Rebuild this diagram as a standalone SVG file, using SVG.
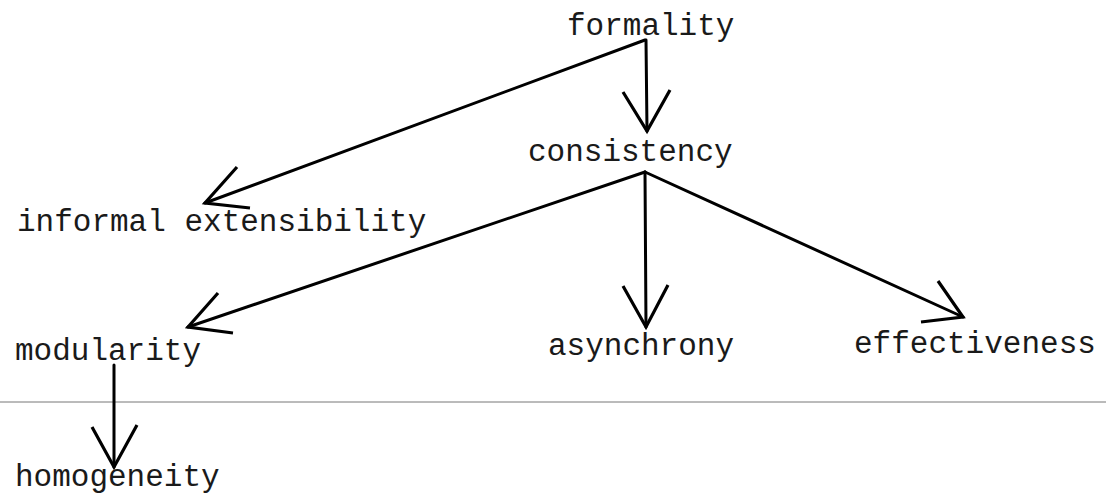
<svg xmlns="http://www.w3.org/2000/svg" width="1106" height="495" viewBox="0 0 1106 495">
<style>
.lbl{font-family:"Liberation Mono","Courier New",monospace;font-size:31px;fill:#1a1a1a}
.ln{stroke:#000;stroke-width:3;fill:none;stroke-linecap:round;stroke-linejoin:round}
.hd{stroke:#000;stroke-width:3.2;fill:none;stroke-linecap:butt;stroke-linejoin:miter}
</style>
<rect width="1106" height="495" fill="#fff"/>
<line x1="0" y1="402" x2="1106" y2="402" stroke="#777" stroke-width="1"/>
<g id="connectors">
<line class="ln" x1="646" y1="40" x2="647" y2="131"/>
<polyline class="hd" points="623,92 647,131 670,90"/>
<line class="ln" x1="645" y1="40" x2="205" y2="203"/>
<polyline class="hd" points="237,167 205,203 250,208"/>
<line class="ln" x1="645" y1="172" x2="188" y2="327"/>
<polyline class="hd" points="218,293 188,327 233,333"/>
<line class="ln" x1="645" y1="172" x2="646" y2="327"/>
<polyline class="hd" points="623,286 646,327 668,285"/>
<line class="ln" x1="645" y1="172" x2="963" y2="317"/>
<polyline class="hd" points="938,281 963,317 921,322"/>
<line class="ln" x1="114" y1="365" x2="114" y2="467"/>
<polyline class="hd" points="92,427 114,467 137,425"/>
</g>
<g id="formality"><text class="lbl" x="567" y="35">formality</text></g>
<g id="consistency"><text class="lbl" x="528" y="161">consistency</text></g>
<g id="informal-extensibility"><text class="lbl" x="17" y="231">informal extensibility</text></g>
<g id="modularity"><text class="lbl" x="15" y="360">modularity</text></g>
<g id="asynchrony"><text class="lbl" x="548" y="355">asynchrony</text></g>
<g id="effectiveness"><text class="lbl" x="854" y="353">effectiveness</text></g>
<g id="homogeneity"><text class="lbl" x="15" y="486">homogeneity</text></g>
</svg>
